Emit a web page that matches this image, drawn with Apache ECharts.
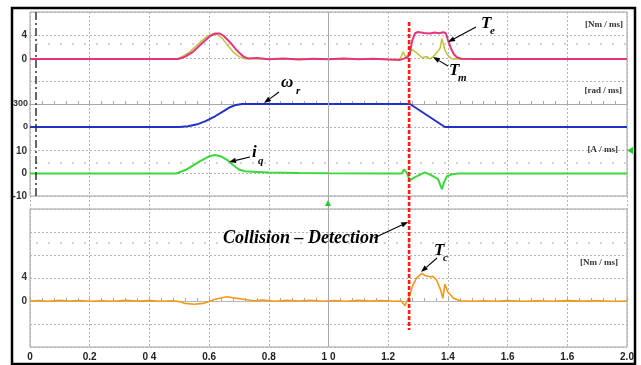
<!DOCTYPE html>
<html>
<head>
<meta charset="utf-8">
<script src="https://cdn.jsdelivr.net/npm/echarts@6/dist/echarts.min.js"></script>
<style>
  html, body { margin: 0; padding: 0; background: #fff; }
  #chart { width: 641px; height: 365px; }
</style>
</head>
<body>
<div id="chart"></div>
<script>
// x tick labels as printed on the original (typos kept)
const xTickLabels = ['0', '0.2', '0 4', '0.6', '0.8', '1 0', '1.2', '1.4', '1.6', '1.6', '2.0'];
const collisionTime = 1.27;

// electrical torque Te [Nm/ms]
const teData = [[0,0],[0.1,0.02],[0.2,0],[0.3,-0.02],[0.4,0.02],[0.49,0],[0.5,0.05],[0.52,0.4],[0.546,1.2],[0.58,2.8],
  [0.603,3.8],[0.62,4.25],[0.636,4.25],[0.65,3.8],[0.67,2.8],[0.69,1.6],[0.7,1.1],[0.715,0.4],[0.73,0.1],[0.76,0.15],
  [0.8,-0.05],[0.85,0.1],[0.9,-0.1],[0.95,0.05],[1.0,-0.05],[1.05,0.1],[1.1,-0.05],[1.15,0.05],[1.2,-0.1],[1.24,-0.15],
  [1.255,0.1],[1.265,0.3],[1.272,0.8],[1.28,3.0],[1.29,4.3],[1.3,4.5],[1.32,4.35],[1.34,4.25],[1.355,4.4],[1.37,4.3],
  [1.385,4.45],[1.393,4.3],[1.4,3.2],[1.41,1.8],[1.42,0.8],[1.43,0.3],[1.445,0.05],[1.5,0],[1.6,0.02],[1.7,-0.02],
  [1.8,0.02],[1.9,0],[2.0,0]];

// mechanical torque Tm [Nm/ms]
const tmData = [[0,0],[0.1,0],[0.2,0.02],[0.3,0],[0.4,0],[0.49,0],[0.51,0.4],[0.536,1.2],[0.57,2.8],[0.595,3.8],
  [0.615,4.2],[0.63,4.0],[0.645,3.4],[0.66,2.4],[0.68,1.2],[0.7,0.4],[0.72,0.05],[0.76,0.1],[0.8,-0.05],[0.9,0.05],
  [1.0,0],[1.1,0.05],[1.2,-0.05],[1.24,0],[1.25,1.2],[1.258,0.3],[1.268,0.8],[1.28,1.6],[1.296,1.0],[1.313,0.2],
  [1.33,0.4],[1.34,0],[1.357,0.7],[1.374,1.8],[1.38,3.4],[1.39,1.5],[1.4,0.6],[1.414,0],[1.5,0],[1.7,0.02],[2.0,0]];

// rotor speed omega_r [rad/ms]
const omegaData = [[0,0],[0.49,0],[0.5,1],[0.53,10],[0.56,35],[0.59,80],[0.62,140],[0.65,210],[0.67,258],[0.69,288],
  [0.71,300],[1.0,300],[1.273,300],[1.39,0],[1.6,0],[2.0,0]];

// q-axis current iq [A/ms]
const iqData = [[0,0],[0.2,0],[0.49,0],[0.525,1.8],[0.57,5.5],[0.603,7.8],[0.62,8.2],[0.64,7.6],[0.663,5.8],[0.68,3.8],
  [0.7,1.8],[0.72,1.0],[0.76,0.7],[0.8,0.4],[0.9,0.2],[1.0,0.1],[1.2,0],[1.245,0],[1.253,1.8],[1.262,0.3],
  [1.273,-3],[1.29,-1.6],[1.323,0.5],[1.345,-0.8],[1.367,-2.5],[1.38,-7],[1.388,-3.5],[1.397,-1.2],[1.415,-0.3],[1.434,0],[2.0,0]];

// collision torque Tc [Nm/ms]
const tcData = [[0,0],[0.03,0.08],[0.06,-0.05],[0.1,0.1],[0.13,0],[0.17,0.08],[0.2,-0.05],[0.24,0.05],[0.28,-0.03],[0.32,0.1],
  [0.36,0],[0.4,0.06],[0.44,-0.05],[0.48,0.05],[0.5,-0.1],[0.52,-0.4],[0.55,-0.55],[0.58,-0.4],[0.6,-0.1],[0.62,0.3],
  [0.64,0.5],[0.66,0.7],[0.68,0.55],[0.7,0.4],[0.72,0.25],[0.75,0.05],[0.78,0.15],[0.82,-0.05],[0.86,0.1],[0.9,0],
  [0.94,0.12],[0.98,-0.03],[1.02,0.08],[1.06,-0.05],[1.1,0.1],[1.14,0],[1.18,0.08],[1.22,-0.05],[1.245,0],[1.256,-0.8],
  [1.263,0],[1.27,0.7],[1.283,2.7],[1.295,3.8],[1.312,4.6],[1.325,4.2],[1.34,4.05],[1.35,4.1],[1.362,3.5],[1.376,1.8],
  [1.383,0.45],[1.39,2.8],[1.4,1.5],[1.418,0.5],[1.44,0.05],[1.48,-0.05],[1.52,0.05],[1.56,-0.05],[1.6,0.08],[1.65,-0.03],
  [1.7,0.05],[1.75,-0.05],[1.8,0.06],[1.85,0],[1.9,0.05],[1.95,-0.03],[2.0,0]];

const chart = echarts.init(document.getElementById('chart'), null, { renderer: 'canvas' });

const L = 30, W = 597;
const gridCol = '#b4b4b4';
const dotted = { show: true, lineStyle: { color: gridCol, type: [2, 2], width: 1 } };
const dotRow = { color: '#c4c4c4', type: [2, 10], dashOffset: 6, width: 1.5 };
const yLabel = { color: '#333', fontFamily: 'Liberation Sans', fontWeight: 'bold', fontSize: 10, margin: 3 };

function xAx(gridIndex, extra) {
	return Object.assign({
		type: 'value', gridIndex, min: 0, max: 2, interval: 0.2,
		axisLine: { show: false }, axisTick: { show: false },
		axisLabel: { show: false }, splitLine: { show: false },
	}, extra || {});
}
function yAx(gridIndex, extra) {
	return Object.assign({
		type: 'value', gridIndex,
		axisLine: { show: false }, axisTick: { show: false },
		axisLabel: { show: false }, splitLine: { show: false },
	}, extra || {});
}
function only(list) {
	return (v) => (list.indexOf(v) >= 0 ? String(v) : '');
}
function line(name, data, g, color, width) {
	return {
		name, type: 'line', xAxisIndex: g, yAxisIndex: g, data,
		showSymbol: false, clip: false, animation: false,
		lineStyle: { color, width }, itemStyle: { color },
	};
}
function helper(g, marks) {
	return {
		type: 'line', xAxisIndex: g, yAxisIndex: g, data: [], silent: true,
		markLine: { silent: true, symbol: ['none', 'none'], label: { show: false }, animation: false, data: marks },
	};
}

chart.setOption({
	animation: false,
	backgroundColor: '#fff',
	grid: [
		{ left: L, width: W, top: 12, height: 335 },
		{ left: L, width: W, top: 12, height: 184, show: true, borderColor: '#a0a0a0', borderWidth: 1, backgroundColor: 'transparent' },
		{ left: L, width: W, top: 209, height: 138, show: true, borderColor: '#a0a0a0', borderWidth: 1, backgroundColor: 'transparent' },
		{ left: L, width: W, top: 11, height: 72 },
		{ left: L, width: W, top: 104, height: 23 },
		{ left: L, width: W, top: 151, height: 45 },
		{ left: L, width: W, top: 277, height: 48 },
	],
	xAxis: [
		xAx(0, { splitLine: dotted }),
		xAx(1),
		xAx(2, {
			axisLabel: {
				show: true, color: '#222', fontFamily: 'Liberation Sans', fontWeight: 'bold', fontSize: 10, margin: 5,
				showMinLabel: true, showMaxLabel: true,
				formatter: (v, i) => xTickLabels[i],
			},
		}),
		xAx(3),
		xAx(4, {
			position: 'top',
			axisLine: { show: true, onZero: false, lineStyle: { color: '#a8a8a8', width: 1 } },
			axisTick: { show: true, length: 3, lineStyle: { color: '#a8a8a8' } },
			minorTick: { show: true, splitNumber: 5, length: 3, lineStyle: { color: '#a8a8a8' } },
		}),
		xAx(5),
		xAx(6, {
			axisLine: { show: true, onZero: true, lineStyle: { color: '#b8b8b8', width: 1 } },
			axisTick: { show: true, length: 3, inside: true, lineStyle: { color: '#a8a8a8' } },
			minorTick: { show: true, splitNumber: 5, length: 3, lineStyle: { color: '#a8a8a8' } },
		}),
	],
	yAxis: [
		yAx(0, { min: 0, max: 1 }),
		yAx(1, { min: 0, max: 8, interval: 1, splitLine: dotted }),
		yAx(2, { min: 0, max: 6, interval: 1, splitLine: dotted }),
		yAx(3, { min: -4, max: 8, interval: 4, axisLabel: Object.assign({ show: true, formatter: only([0, 4]) }, yLabel) }),
		yAx(4, { min: 0, max: 300, interval: 300, axisLabel: Object.assign({ show: true }, yLabel, { fontSize: 9, margin: 2 }) }),
		yAx(5, { min: -10, max: 10, interval: 10, axisLabel: Object.assign({ show: true }, yLabel) }),
		yAx(6, { min: -4, max: 4, interval: 4, axisLabel: Object.assign({ show: true, formatter: only([0, 4]) }, yLabel) }),
	],
	series: [
		helper(0, [{ xAxis: 1, lineStyle: { color: '#a8a8a8', type: 'solid', width: 1 } }]),
		helper(1, [
			{ yAxis: 6.6, lineStyle: dotRow },
			{ yAxis: 1.43, lineStyle: dotRow },
			{ xAxis: 0.017, lineStyle: { color: '#333', type: [8, 3, 2, 3], width: 1.5 } },
		]),
		helper(2, [{ yAxis: 4.52, lineStyle: dotRow }]),
		line('Tm', tmData, 3, '#c2c03a', 1.5),
		line('Te', teData, 3, '#e2357f', 2),
		line('omega', omegaData, 4, '#2232c4', 2),
		line('iq', iqData, 5, '#3ad83a', 2),
		line('Tc', tcData, 6, '#f29a18', 1.6),
	],
});

// annotations
function arrow(x1, y1, x2, y2) {
	const a = Math.atan2(y2 - y1, x2 - x1), h = 7, w = 2.6;
	const bx = x2 - h * Math.cos(a), by = y2 - h * Math.sin(a);
	const px = -Math.sin(a) * w, py = Math.cos(a) * w;
	return [
		{ type: 'line', z: 100, shape: { x1, y1, x2: bx, y2: by }, style: { stroke: '#000', lineWidth: 1.1 } },
		{ type: 'polygon', z: 100, shape: { points: [[x2, y2], [bx + px, by + py], [bx - px, by - py]] }, style: { fill: '#000' } },
	];
}
const serifBig = 'italic bold 17px "Liberation Serif"';
const serifSub = 'italic bold 11px "Liberation Serif"';
const unitFont = 'bold 9px "Liberation Serif"';
function txt(x, y, text, font, align, fill) {
	return {
		type: 'text', z: 100, x, y,
		style: { text, font, fill: fill || '#000', textAlign: align || 'left', textVerticalAlign: 'middle', align: align || 'left', verticalAlign: 'middle' },
	};
}

const xr = chart.convertToPixel({ xAxisIndex: 0 }, collisionTime);

chart.setOption({
	graphic: [
		{ type: 'rect', z: 90, shape: { x: 12, y: 8, width: 623, height: 356 }, style: { fill: 'none', stroke: '#000', lineWidth: 2.5 } },
		{ type: 'line', z: 95, shape: { x1: xr, y1: 22, x2: xr, y2: 330 }, style: { stroke: '#ff1a1a', lineWidth: 2.6, lineDash: [4, 2] } },
		{ type: 'polygon', z: 95, shape: { points: [[325, 206], [331, 206], [328, 200]] }, style: { fill: '#22cc22' } },
		{ type: 'polygon', z: 95, shape: { points: [[633, 147], [633, 154], [627, 150.5]] }, style: { fill: '#22cc22' } },
		txt(623, 25, '[Nm / ms]', unitFont, 'right', '#333'),
		txt(622, 91, '[rad / ms]', unitFont, 'right', '#333'),
		txt(618, 150, '[A / ms]', unitFont, 'right', '#333'),
		txt(618, 263, '[Nm / ms]', unitFont, 'right', '#333'),
		txt(481, 24, 'T', serifBig), txt(490, 31, 'e', serifSub),
		txt(449, 71, 'T', serifBig), txt(458, 78, 'm', serifSub),
		txt(434, 251, 'T', serifBig), txt(443, 258, 'c', serifSub),
		txt(281, 83, 'ω', serifBig), txt(296, 91, 'r', serifSub),
		txt(252, 153, 'i', serifBig), txt(258, 161, 'q', serifSub),
		txt(223, 238, 'Collision – Detection', 'italic bold 18px "Liberation Serif"'),
		...arrow(476, 27, 448, 42),
		...arrow(448, 66, 433, 57),
		...arrow(279, 92, 264, 103),
		...arrow(250, 157, 229, 162),
		...arrow(437, 258, 421, 272),
		...arrow(374, 238, xr - 1, 222),
	],
});
</script>
</body>
</html>
